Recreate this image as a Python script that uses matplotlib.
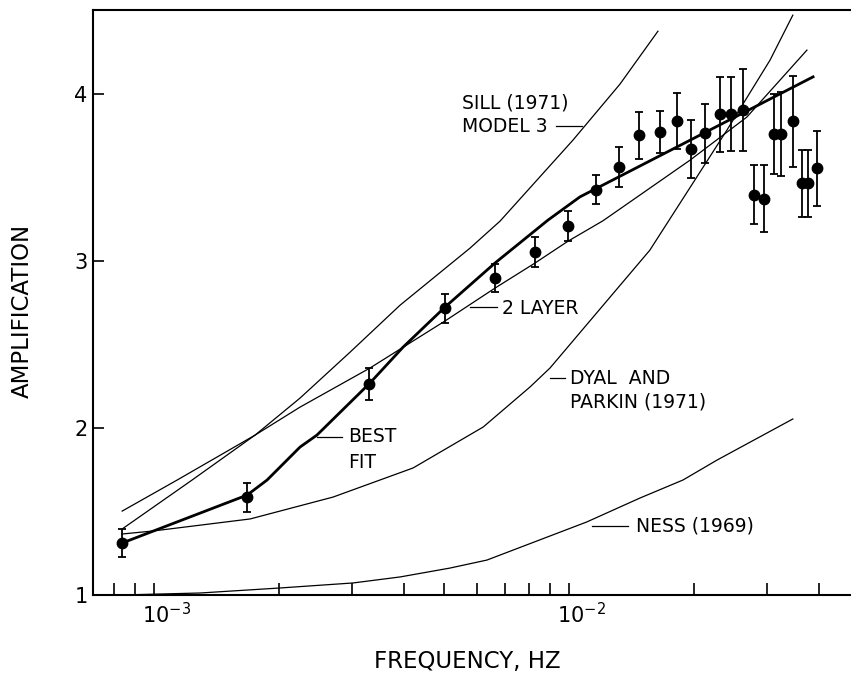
import numpy as np
import matplotlib
matplotlib.use('Agg')
import matplotlib.pyplot as plt
import matplotlib.transforms as mtransforms
from matplotlib.ticker import LogLocator, NullFormatter

plt.rcParams['font.family'] = ['DejaVu Sans']
plt.rcParams['mathtext.default'] = 'regular'

# measured amplification with error bars
freq = [8.36e-4, 1.674e-3, 3.30e-3, 5.02e-3, 6.63e-3, 8.28e-3, 9.95e-3,
        1.162e-2, 1.321e-2, 1.472e-2, 1.655e-2, 1.82e-2, 1.967e-2, 2.123e-2,
        2.317e-2, 2.466e-2, 2.624e-2, 2.80e-2, 2.95e-2, 3.118e-2, 3.25e-2,
        3.476e-2, 3.64e-2, 3.77e-2, 3.97e-2]
amp = [1.311, 1.586, 2.262, 2.716, 2.896, 3.051, 3.207,
       3.426, 3.562, 3.751, 3.771, 3.835, 3.667, 3.763,
       3.875, 3.877, 3.903, 3.394, 3.370, 3.759, 3.759,
       3.833, 3.462, 3.462, 3.554]
amp_err = [0.084, 0.087, 0.095, 0.087, 0.085, 0.09, 0.09,
           0.087, 0.12, 0.14, 0.125, 0.167, 0.175, 0.177,
           0.225, 0.22, 0.245, 0.177, 0.2, 0.24, 0.25,
           0.274, 0.2, 0.2, 0.224]

# model curves
best_f = [8.36e-4, 1.289e-3, 1.674e-3, 1.87e-3, 2.245e-3, 2.467e-3, 3.31e-3,
          3.98e-3, 5.02e-3, 6.63e-3, 8.90e-3, 1.063e-2, 1.853e-2, 3.88e-2]
best_a = [1.311, 1.490, 1.598, 1.688, 1.885, 1.957, 2.268,
          2.483, 2.722, 2.986, 3.243, 3.382, 3.690, 4.100]

layer2_f = [8.36e-4, 1.233e-3, 1.750e-3, 2.245e-3, 3.311e-3, 5.02e-3, 6.63e-3,
            8.28e-3, 9.95e-3, 1.208e-2, 1.960e-2, 2.685e-2, 3.75e-2]
layer2_a = [1.395, 1.688, 1.957, 2.124, 2.358, 2.639, 2.836,
            2.986, 3.117, 3.239, 3.602, 3.859, 4.260]

sill_f = [8.36e-4, 1.135e-3, 1.750e-3, 2.245e-3, 2.965e-3, 3.914e-3, 5.77e-3,
          6.82e-3, 1.022e-2, 1.327e-2, 1.639e-2]
sill_a = [1.502, 1.688, 1.957, 2.178, 2.453, 2.734, 3.075,
          3.237, 3.721, 4.056, 4.373]

dyal_f = [8.36e-4, 9.93e-4, 1.702e-3, 2.698e-3, 4.207e-3, 6.21e-3, 8.05e-3,
          9.00e-3, 1.567e-2, 2.404e-2, 3.055e-2, 3.467e-2]
dyal_a = [1.365, 1.383, 1.455, 1.586, 1.760, 2.005, 2.244,
          2.358, 3.063, 3.781, 4.200, 4.469]

ness_f = [8.36e-4, 1.289e-3, 2.009e-3, 3.013e-3, 3.914e-3, 5.16e-3, 6.34e-3,
          1.104e-2, 1.483e-2, 1.884e-2, 2.275e-2, 3.467e-2]
ness_a = [1.000, 1.012, 1.042, 1.072, 1.108, 1.161, 1.209,
          1.437, 1.580, 1.688, 1.807, 2.053]

fig = plt.figure(figsize=(8.51, 6.78), dpi=100)
ax = fig.add_axes([93/851, 83/678, 758/851, 585/678])

ax.plot(sill_f, sill_a, 'k-', lw=0.9)
ax.plot(layer2_f, layer2_a, 'k-', lw=0.9)
ax.plot(dyal_f, dyal_a, 'k-', lw=0.9)
ax.plot(ness_f, ness_a, 'k-', lw=0.9)
ax.plot(best_f, best_a, 'k-', lw=2.0)
ax.errorbar(freq, amp, yerr=amp_err, fmt='o', color='k', ms=7.5,
            elinewidth=1.3, capsize=3.2, capthick=1.3)

# curve labels with short leader dashes
fs = 13.5
ax.text(5.52e-3, 3.943, 'SILL (1971)', fontsize=fs, va='center', ha='left')
ax.text(5.52e-3, 3.801, 'MODEL 3', fontsize=fs, va='center', ha='left')
ax.plot([9.30e-3, 1.075e-2], [3.805, 3.805], 'k-', lw=0.9)

ax.plot([5.77e-3, 6.71e-3], [2.722, 2.722], 'k-', lw=0.9)
ax.text(6.90e-3, 2.713, '2 LAYER', fontsize=fs, va='center', ha='left')

ax.plot([2.467e-3, 2.835e-3], [1.945, 1.945], 'k-', lw=0.9)
ax.text(2.93e-3, 1.951, 'BEST', fontsize=fs, va='center', ha='left')
ax.text(2.93e-3, 1.795, 'FIT', fontsize=fs, va='center', ha='left')

ax.plot([9.00e-3, 9.78e-3], [2.298, 2.298], 'k-', lw=0.9)
ax.text(1.0055e-2, 2.294, 'DYAL  AND', fontsize=fs, va='center', ha='left')
ax.text(1.0055e-2, 2.156, 'PARKIN (1971)', fontsize=fs, va='center', ha='left')

ax.plot([1.136e-2, 1.388e-2], [1.413, 1.413], 'k-', lw=0.9)
ax.text(1.451e-2, 1.413, 'NESS (1969)', fontsize=fs, va='center', ha='left')

# axes
ax.set_xscale('log')
ax.set_xlim(7.11e-4, 4.79e-2)
ax.set_ylim(1, 4.5)
ax.set_xticks([1e-3, 1e-2])
ax.set_xticklabels([r'$10^{-3}$', r'$10^{-2}$'])
ax.xaxis.set_minor_locator(LogLocator(base=10, subs=np.arange(2, 10)))
ax.xaxis.set_minor_formatter(NullFormatter())
ax.set_yticks([1, 2, 3, 4])
ax.set_yticklabels(['1', '2', '3', '4'])
ax.tick_params(axis='x', which='both', direction='in', length=9, width=1.2,
               labelsize=15, pad=5, top=False)
ax.tick_params(axis='y', which='both', direction='in', length=8, width=1.2,
               labelsize=15, pad=4, right=False)
ax.spines['right'].set_visible(False)
for s in ['left', 'top', 'bottom']:
    ax.spines[s].set_linewidth(1.5)

# the printed decade labels sit a little right of their ticks
shift = mtransforms.ScaledTranslation(0.12, 0, fig.dpi_scale_trans)
for lab in ax.get_xticklabels():
    lab.set_transform(lab.get_transform() + shift)

fig.text(0.0259, 0.5413, 'AMPLIFICATION', rotation=90, fontsize=16.5,
         ha='center', va='center')
fig.text(0.5488, 0.0236, 'FREQUENCY, HZ', fontsize=16.5, ha='center', va='center')

fig.savefig('out.png', dpi=100)
